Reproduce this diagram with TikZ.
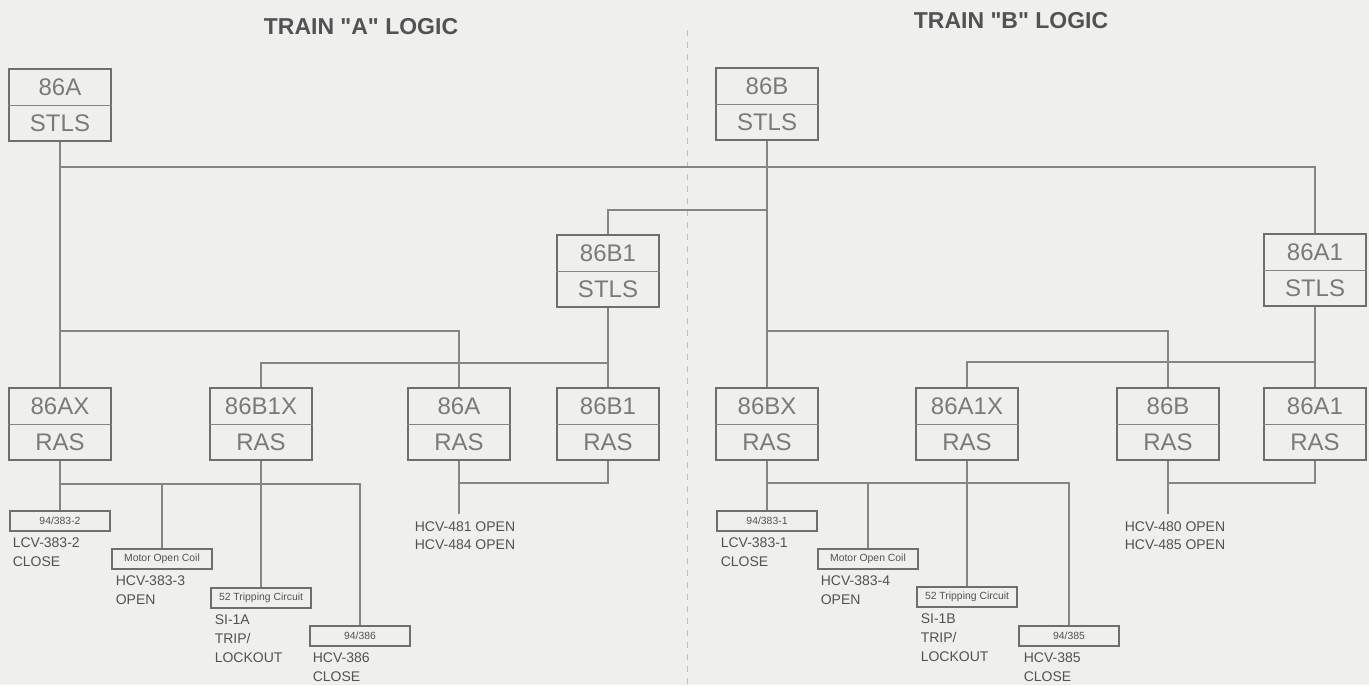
\documentclass[tikz,border=0pt]{standalone}
\usepackage{fontspec}
\setmainfont{Liberation Sans}
\usetikzlibrary{positioning,shapes.multipart}

\definecolor{paper}{HTML}{EFEFED}
\definecolor{wirec}{HTML}{858585}
\definecolor{framec}{HTML}{6E6E6E}
\definecolor{inkc}{HTML}{7A7A7A}
\definecolor{printc}{HTML}{525252}

\begin{document}
\begin{tikzpicture}[x=0.5pt,y=-0.5pt,
    relay/.style={
      rectangle split,
      rectangle split parts=2,
      rectangle split draw splits=false,
      draw=framec,
      line width=1pt,
      text=inkc,
      font=\fontsize{12}{12}\selectfont,
      text width=44pt,
      align=center,
      text height=8.6pt,
      text depth=0pt,
      inner ysep=4.2pt
    },
    coil/.style={
      draw=framec,
      line width=0.6pt,
      minimum width=50pt,
      minimum height=10pt,
      inner sep=0pt,
      text=printc,
      font=\fontsize{5.2}{6}\selectfont
    },
    desc/.style={
      text=printc,
      font=\fontsize{7}{9.4}\selectfont,
      align=left,
      inner sep=0pt
    },
    wire/.style={draw=wirec, line width=0.7pt},
    heading/.style={text=printc, font=\fontsize{11.5}{12}\selectfont\bfseries}
    ]
    \useasboundingbox (0,0) rectangle (1369,685);
    \fill[paper] (0,0) rectangle (1369,685);

    % headings and train divider
    \node[heading] (titleA) at (361,27) {TRAIN \textquotedbl A\textquotedbl\ LOGIC};
    \node[heading] (titleB) at (1011,21) {TRAIN \textquotedbl B\textquotedbl\ LOGIC};
    \draw[dashed, draw=gray!50, line width=0.5pt] (687,30) -- (687,685);

    % STLS relays
    \node[relay] (stlsA) at (60,105) {86A\nodepart{two}STLS};
    \node[relay] (stlsB) at (767,104) {86B\nodepart{two}STLS};
    \node[relay] (stlsBone) at (608,271) {86B1\nodepart{two}STLS};
    \node[relay] (stlsAone) at (1315,270) {86A1\nodepart{two}STLS};

    % RAS relays
    \node[relay] (rasAX) at (60,424) {86AX\nodepart{two}RAS};
    \node[relay] (rasBoneX) at (261,424) {86B1X\nodepart{two}RAS};
    \node[relay] (rasA) at (459,424) {86A\nodepart{two}RAS};
    \node[relay] (rasBone) at (608,424) {86B1\nodepart{two}RAS};
    \node[relay] (rasBX) at (767,424) {86BX\nodepart{two}RAS};
    \node[relay] (rasAoneX) at (967,424) {86A1X\nodepart{two}RAS};
    \node[relay] (rasB) at (1168,424) {86B\nodepart{two}RAS};
    \node[relay] (rasAone) at (1315,424) {86A1\nodepart{two}RAS};

    % thin split lines
    \foreach \r in {stlsA,stlsB,stlsBone,stlsAone,rasAX,rasBoneX,rasA,rasBone,rasBX,rasAoneX,rasB,rasAone}
      \draw[draw=wirec, line width=0.45pt] (\r.text split west) -- (\r.text split east);

    % train A outputs
    \node[coil] (coilA1) at (60,521) {94/383-2};
    \node[coil] (coilA2) at (162,559) {Motor Open Coil};
    \node[coil] (coilA3) at (261,598) {52 Tripping Circuit};
    \node[coil] (coilA4) at (360,636) {94/386};
    \node[desc, below right=3pt and 1.5pt of coilA1.south west] (valA1) {LCV-383-2\\CLOSE};
    \node[desc, below right=3pt and 2pt of coilA2.south west] (valA2) {HCV-383-3\\OPEN};
    \node[desc, below right=3pt and 2pt of coilA3.south west] (valA3) {SI-1A\\TRIP/\\LOCKOUT};
    \node[desc, below right=3pt and 1.5pt of coilA4.south west] (valA4) {HCV-386\\CLOSE};
    \node[desc, below=30pt of rasA.south, xshift=3pt, anchor=north] (outA) {HCV-481 OPEN\\HCV-484 OPEN};

    % train B outputs
    \node[coil] (coilB1) at (767,521) {94/383-1};
    \node[coil] (coilB2) at (868,559) {Motor Open Coil};
    \node[coil] (coilB3) at (967,597) {52 Tripping Circuit};
    \node[coil] (coilB4) at (1069,636) {94/385};
    \node[desc, below right=3pt and 2pt of coilB1.south west] (valB1) {LCV-383-1\\CLOSE};
    \node[desc, below right=3pt and 1.5pt of coilB2.south west] (valB2) {HCV-383-4\\OPEN};
    \node[desc, below right=3pt and 2pt of coilB3.south west] (valB3) {SI-1B\\TRIP/\\LOCKOUT};
    \node[desc, below right=3pt and 2.5pt of coilB4.south west] (valB4) {HCV-385\\CLOSE};
    \node[desc, below=30pt of rasB.south, xshift=3.5pt, anchor=north] (outB) {HCV-480 OPEN\\HCV-485 OPEN};

    % junctions
    \coordinate (jTop) at (60,167);
    \coordinate (jB) at (767,210);
    \coordinate (jA) at (60,331);
    \coordinate (jBone) at (608,363);
    \coordinate (jBB) at (767,331);
    \coordinate (jAone) at (1315,362);
    \coordinate (jCA) at (60,484);
    \coordinate (jCB) at (767,483);
    \coordinate (jDA) at (459,483);
    \coordinate (jDB) at (1168,483);

    % STLS to RAS
    \draw[wire] (stlsA.south) -- (rasAX.north);
    \draw[wire] (stlsB.south) -- (rasBX.north);
    \draw[wire] (stlsBone.south) -- (rasBone.north);
    \draw[wire] (stlsAone.south) -- (rasAone.north);
    \draw[wire] (jTop) -| (stlsAone.north);
    \draw[wire] (jB) -| (stlsBone.north);
    \draw[wire] (jA) -| (rasA.north);
    \draw[wire] (jBone) -| (rasBoneX.north);
    \draw[wire] (jBB) -| (rasB.north);
    \draw[wire] (jAone) -| (rasAoneX.north);

    % RAS to outputs
    \draw[wire] (rasAX.south) -- (coilA1.north);
    \draw[wire] (rasBoneX.south) -- (coilA3.north);
    \draw[wire] (jCA) -| (coilA4.north);
    \draw[wire] (coilA2.north |- jCA) -- (coilA2.north);
    \draw[wire] (rasBX.south) -- (coilB1.north);
    \draw[wire] (rasAoneX.south) -- (coilB3.north);
    \draw[wire] (jCB) -| (coilB4.north);
    \draw[wire] (coilB2.north |- jCB) -- (coilB2.north);
    \draw[wire, shorten >=3.5pt] (rasA.south) -- (rasA.south |- outA.north);
    \draw[wire] (rasBone.south) |- (jDA);
    \draw[wire, shorten >=3.5pt] (rasB.south) -- (rasB.south |- outB.north);
    \draw[wire] (rasAone.south) |- (jDB);
\end{tikzpicture}
\end{document}
